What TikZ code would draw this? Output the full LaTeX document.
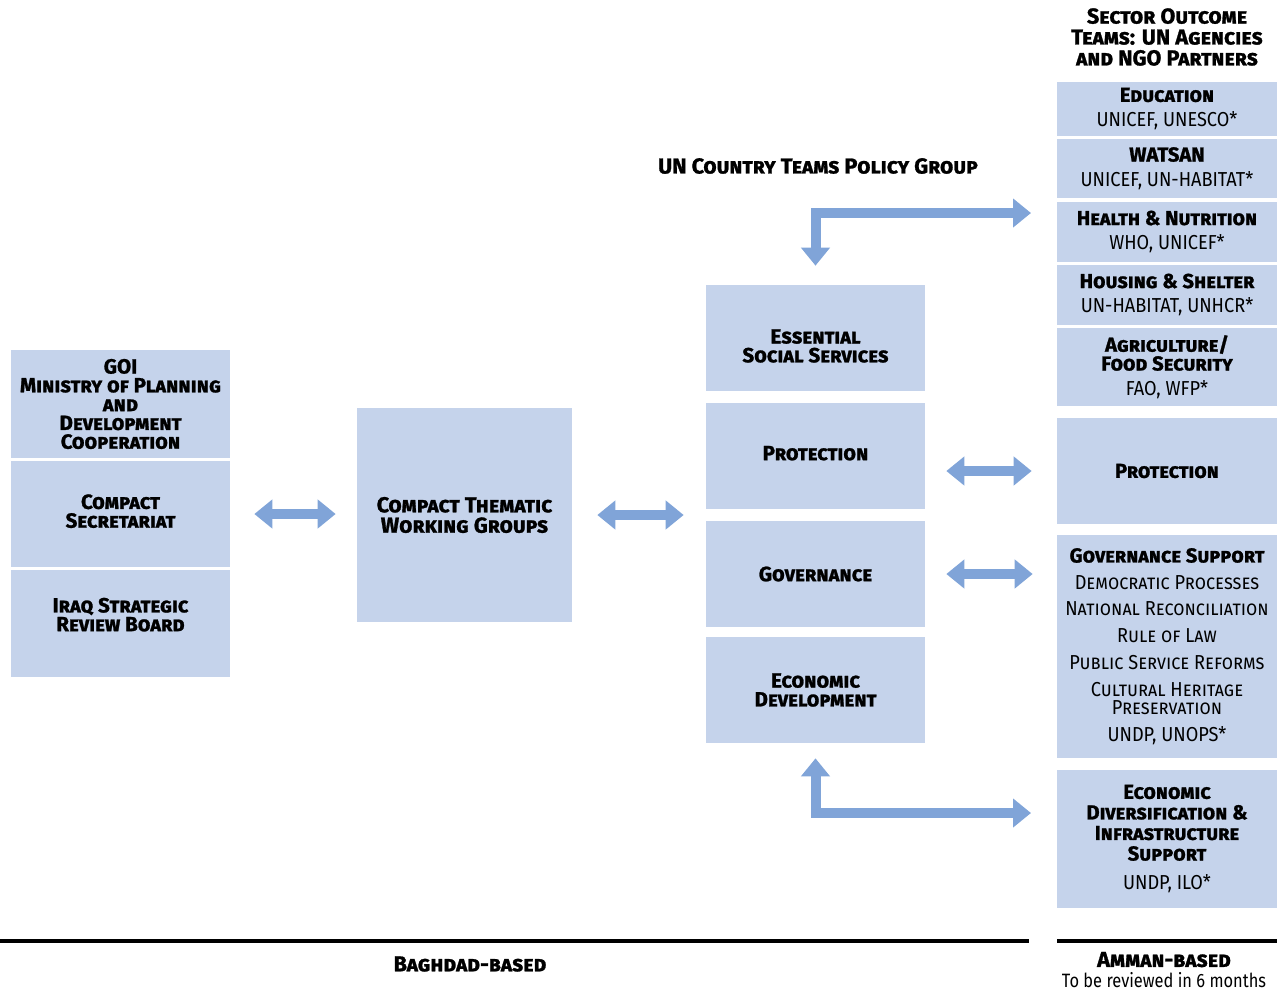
\documentclass[tikz,border=0pt]{standalone}
\usepackage{fontspec}
\setmainfont{Fira Sans}[BoldFeatures={FakeBold=1.2}]
\usetikzlibrary{arrows.meta}
\definecolor{boxblue}{RGB}{197,211,235}
\definecolor{arrowblue}{RGB}{128,164,216}
\newcommand{\agencies}[1]{{\mdseries\upshape\addfontfeature{FakeStretch=0.9}#1}}
\newcommand{\topicline}[1]{{\mdseries\addfontfeature{FakeStretch=0.9}#1}}
\tikzset{
  box/.style={fill=boxblue, inner sep=0pt, align=center,
    font=\fontsize{11.7}{10.7}\selectfont\bfseries\scshape},
  rbox/.style={box, minimum width=4.4cm,
    font=\fontsize{11.5}{10.7}\selectfont\bfseries\scshape},
  caption/.style={align=center, font=\fontsize{12.3}{11.9}\selectfont\bfseries\scshape},
  fat/.style={draw=arrowblue, line width=0.2cm,
    {Triangle[width=0.56cm,length=0.36cm]}-{Triangle[width=0.56cm,length=0.36cm]}},
}
\begin{document}
\begin{tikzpicture}[x=0.02cm,y=-0.02cm]
\useasboundingbox (0,0) rectangle (1279,992);
% government side
\node[box, minimum width=4.38cm, minimum height=2.16cm] (goi) at (120.5,404) {GOI\\Ministry of Planning\\and\\Development\\Cooperation};
\node[box, minimum width=4.38cm, minimum height=2.12cm, text depth=0.12cm] (secr) at (120.5,514) {Compact\\Secretariat};
\node[box, minimum width=4.38cm, minimum height=2.14cm, text depth=0.36cm] (isrb) at (120.5,623.5) {Iraq Strategic\\Review Board};
\node[box, minimum width=4.3cm, minimum height=4.28cm, font=\fontsize{12.3}{11.6}\selectfont\bfseries\scshape] (ctwg) at (464.5,515) {Compact Thematic\\Working Groups};
% thematic clusters
\node[box, minimum width=4.38cm, minimum height=2.12cm, text height=0.98cm] (ess) at (815.5,338) {Essential\\Social Services};
\node[box, minimum width=4.38cm, minimum height=2.12cm, text depth=0.12cm] (prot) at (815.5,456) {Protection};
\node[box, minimum width=4.38cm, minimum height=2.12cm] (gov) at (815.5,574) {Governance};
\node[box, minimum width=4.38cm, minimum height=2.12cm] (econ) at (815.5,690) {Economic\\Development};
% sector outcome teams
\node[caption] (sot) at (1167,37) {Sector Outcome\\Teams: UN Agencies\\and NGO Partners};
\node[caption] (ctpg) at (818,166) {UN Country Teams Policy Group};
\node[rbox, minimum height=1.08cm] (edu) at (1167,109) {Education\\[3.5pt]\agencies{UNICEF, UNESCO*}};
\node[rbox, minimum height=1.18cm] (watsan) at (1167,168.5) {WATSAN\\[3.5pt]\agencies{UNICEF, UN-HABITAT*}};
\node[rbox, minimum height=1.2cm] (health) at (1167,232) {Health \& Nutrition\\[3.5pt]\agencies{WHO, UNICEF*}};
\node[rbox, minimum height=1.2cm] (housing) at (1167,295) {Housing \& Shelter\\[3.5pt]\agencies{UN-HABITAT, UNHCR*}};
\node[rbox, minimum height=1.56cm] (agri) at (1167,367) {Agriculture/\\Food Security\\[3.5pt]\agencies{FAO, WFP*}};
\node[rbox, minimum height=2.12cm] (rprot) at (1167,471) {Protection};
\node[rbox, minimum height=4.46cm] (rgov) at (1167,646.5) {Governance Support\\[4.5pt]
  \topicline{Democratic Processes}\\[4.5pt]
  \topicline{National Reconciliation}\\[4.5pt]
  \topicline{Rule of Law}\\[4.5pt]
  \topicline{Public Service Reforms}\\[4.5pt]
  \topicline{Cultural Heritage}\\
  \topicline{Preservation}\\[4.5pt]
  \agencies{UNDP, UNOPS*}};
\node[rbox, minimum height=2.76cm] (rdiv) at (1167,839) {Economic\\[1pt]Diversification \&\\[1pt]Infrastructure\\[1pt]Support\\[6pt]\agencies{UNDP, ILO*}};
% links
\coordinate (topbar) at (1057,213);
\coordinate (botbar) at (1057,813);
\draw[fat, shorten <=0.48cm, shorten >=0.42cm] (secr.east) -- (secr.east -| ctwg.west);
\draw[fat, shorten <=0.5cm, shorten >=0.44cm] (ctwg.east) -- (ctwg.east -| prot.west);
\draw[fat, shorten <=0.42cm, shorten >=0.5cm] (rprot.west -| prot.east) -- (rprot.west);
\draw[fat, shorten <=0.42cm, shorten >=0.48cm] (gov.east) -- (gov.east -| rgov.west);
\draw[fat, shorten <=0.38cm, shorten >=0.52cm] (ess.north) |- (topbar);
\draw[fat, shorten <=0.3cm, shorten >=0.52cm] (econ.south) |- (botbar);
% location rules
\draw[line width=0.08cm] (0,941) -- (1029,941);
\draw[line width=0.08cm] (1057,941) -- (1277,941);
\node[caption] (baghdad) at (470,964) {Baghdad-based};
\node[caption] (amman) at (1164,970) {Amman-based\\{\mdseries\upshape\fontsize{11}{11.5}\selectfont\addfontfeature{FakeStretch=0.85}To be reviewed in 6 months}};
\end{tikzpicture}
\end{document}
